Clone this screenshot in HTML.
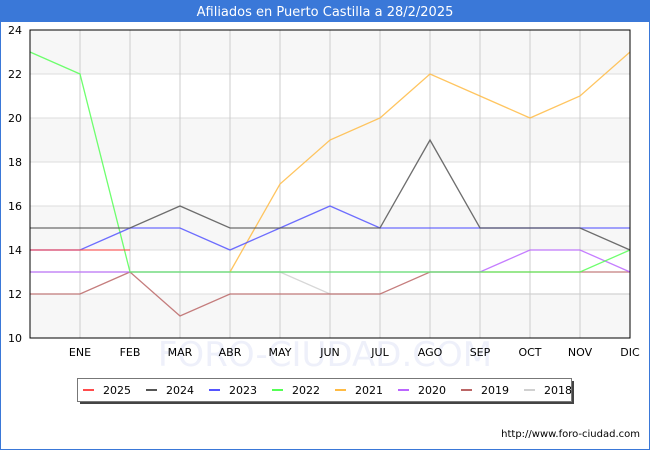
<!DOCTYPE html>
<html><head><meta charset="utf-8"><style>
body{margin:0;width:650px;height:450px;overflow:hidden;background:#fff;font-family:"Liberation Sans","DejaVu Sans",sans-serif}
</style></head><body>
<svg width="650" height="450" xmlns="http://www.w3.org/2000/svg" font-family="'DejaVu Sans','Liberation Sans',sans-serif">
<rect x="0" y="0" width="650" height="450" fill="#fff" stroke="#3a78d8" stroke-width="2"/>
<rect x="0" y="0" width="650" height="22" fill="#3a78d8"/>
<text x="325" y="16" text-anchor="middle" fill="#fff" font-size="13">Afiliados en Puerto Castilla a 28/2/2025</text>
<g id="grid"></g>
<text x="325" y="366" text-anchor="middle" fill="#eef0fa" font-size="34">FORO-CIUDAD.COM</text>
<g id="series"></g>
<rect x="30" y="30" width="600" height="308" fill="none" stroke="#000" stroke-width="1"/>
<g id="axes" font-size="11" fill="#000"></g>
<rect x="80" y="381" width="494" height="23" fill="#444"/>
<rect x="77.5" y="378.5" width="494" height="23" fill="#fff" stroke="#777"/>
<g id="legend" font-size="11"></g>
<text x="640" y="437" text-anchor="end" font-size="10" fill="#000">http://www.foro-ciudad.com</text>
</svg>
<script>
const months=["","ENE","FEB","MAR","ABR","MAY","JUN","JUL","AGO","SEP","OCT","NOV","DIC"];
const yTicks=[10,12,14,16,18,20,22,24];
const years=["2025","2024","2023","2022","2021","2020","2019","2018"];
const colors=["#ff4c4c","#555555","#5555ff","#55ff55","#ffbb44","#bb66ff","#bb6666","#d0d0d0"];
const s2025=[14,14,14];
const s2024=[15,15,15,16,15,15,15,15,19,15,15,15,14];
const s2023=[14,14,15,15,14,15,16,15,15,15,15,15,15];
const s2022=[23,22,13,13,13,13,13,13,13,13,13,13,14];
const s2021=[null,null,null,null,13,17,19,20,22,21,20,21,23];
const s2020=[13,13,13,13,13,13,13,13,13,13,14,14,13];
const s2019=[12,12,13,11,12,12,12,12,13,13,13,13,13];
const s2018=[13,13,13,13,13,13,12,12,12,12,12,12,12];
const series=[s2025,s2024,s2023,s2022,s2021,s2020,s2019,s2018];
const NS="http://www.w3.org/2000/svg";
const X0=30,X1=630,Y0=338,Y1=30,YMIN=10,YMAX=24;
const xs=i=>X0+(X1-X0)*i/(months.length-1);
const ys=v=>Y0-(v-YMIN)*(Y0-Y1)/(YMAX-YMIN);
function mk(t,a,p){const e=document.createElementNS(NS,t);for(const k in a)e.setAttribute(k,a[k]);p.appendChild(e);return e;}
const grid=document.getElementById('grid'),axes=document.getElementById('axes');
for(let i=0;i<yTicks.length-1;i++){
 if(i%2===0){const b=mk('rect',{x:X0,y:ys(yTicks[i+1]),width:X1-X0,height:ys(yTicks[i])-ys(yTicks[i+1]),fill:'#f7f7f7'},grid);
 
 }
}
yTicks.forEach(v=>{
 const l=mk('line',{x1:X0,x2:X1,y1:ys(v),y2:ys(v),stroke:'#dddddd'},grid);
 
 
 const t=mk('text',{x:X0-8,y:ys(v)+4,'text-anchor':'end'},axes);t.textContent=v;
 
 
});
months.forEach((m,i)=>{
 if(i===0)return;
 const l=mk('line',{x1:xs(i),x2:xs(i),y1:Y1,y2:Y0,stroke:'#cccccc'},grid);
 
 
 const t=mk('text',{x:xs(i),y:Y0+18,'text-anchor':'middle'},axes);t.textContent=m;
 
 
});
const sg=document.getElementById('series');
for(let k=series.length-1;k>=0;k--){
 const p=series[k].map((v,i)=>v===null?null:xs(i)+','+ys(v)).filter(s=>s!==null).join(' ');
 const pl=mk('polyline',{points:p,fill:'none',stroke:colors[k],'stroke-width':1.3,'stroke-opacity':0.85},sg);
 
 
}
const lg=document.getElementById('legend');
years.forEach((y,i)=>{
 const x=83+i*63;
 const l=mk('line',{x1:x,x2:x+11,y1:390,y2:390,stroke:colors[i],'stroke-width':2},lg);
 
 
 const t=mk('text',{x:x+20,y:394},lg);t.textContent=y;
 
 
});
</script>
</body></html>
